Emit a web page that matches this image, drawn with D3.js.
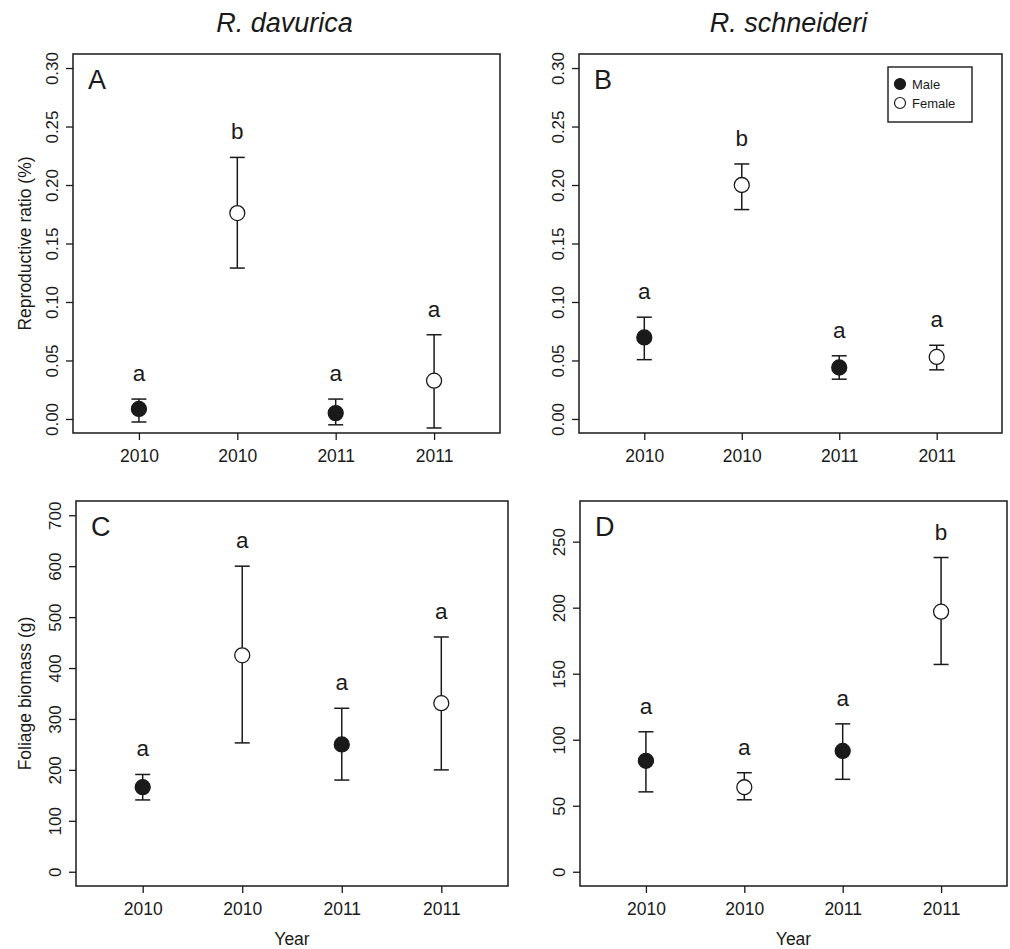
<!DOCTYPE html>
<html>
<head>
<meta charset="utf-8">
<script src="https://cdn.jsdelivr.net/npm/d3@7"></script>
<style>
  html, body { margin: 0; padding: 0; background: #fff; }
  svg { display: block; }
  text { font-family: "Liberation Sans", Arial, sans-serif; fill: #1a1a1a; }
</style>
</head>
<body>
<svg id="chart" width="1010" height="949"></svg>
<script>
// ---------- data ----------
const categories = ["2010", "2010", "2011", "2011"];
const sexes = ["Male", "Female", "Male", "Female"];
const speciesTitles = ["R. davurica", "R. schneideri"];

const ratioTicks = [0, 0.05, 0.10, 0.15, 0.20, 0.25, 0.30];
const biomassTicksC = [0, 100, 200, 300, 400, 500, 600, 700];
const biomassTicksD = [0, 50, 100, 150, 200, 250];

// Panel A: R. davurica reproductive ratio
const aMean = [0.0086, 0.176, 0.005, 0.0327];
const aLow = [-0.0026, 0.129, -0.005, -0.0077];
const aHigh = [0.017, 0.2236, 0.017, 0.072];
const aLetters = ["a", "b", "a", "a"];

// Panel B: R. schneideri reproductive ratio
const bMean = [0.0697, 0.200, 0.044, 0.053];
const bLow = [0.0507, 0.179, 0.034, 0.042];
const bHigh = [0.087, 0.218, 0.054, 0.063];
const bLetters = ["a", "b", "a", "a"];

// Panel C: R. davurica foliage biomass
const cMean = [166, 425, 250, 331];
const cLow = [141, 253, 180, 200];
const cHigh = [191, 600, 321, 461];
const cLetters = ["a", "a", "a", "a"];

// Panel D: R. schneideri foliage biomass
const dMean = [84, 64, 91.5, 197];
const dLow = [60.5, 54.5, 70, 157];
const dHigh = [106, 75, 112, 238];
const dLetters = ["a", "a", "a", "b"];

// ---------- layout ----------
const panels = [
  { label: "A", mean: aMean, low: aLow, high: aHigh, letters: aLetters,
    yDomain: [-0.012, 0.312], ticks: ratioTicks, fmt: d3.format(".2f"),
    box: { x0: 73, x1: 500, y0: 54, y1: 433 }, yTitle: "Reproductive ratio (%)", xTitle: null, legend: false },
  { label: "B", mean: bMean, low: bLow, high: bHigh, letters: bLetters,
    yDomain: [-0.012, 0.312], ticks: ratioTicks, fmt: d3.format(".2f"),
    box: { x0: 579, x1: 1002, y0: 54, y1: 433 }, yTitle: null, xTitle: null, legend: true },
  { label: "C", mean: cMean, low: cLow, high: cHigh, letters: cLetters,
    yDomain: [-28, 728], ticks: biomassTicksC, fmt: d3.format("d"),
    box: { x0: 76, x1: 508, y0: 501, y1: 886 }, yTitle: "Foliage biomass (g)", xTitle: "Year", legend: false },
  { label: "D", mean: dMean, low: dLow, high: dHigh, letters: dLetters,
    yDomain: [-10.8, 280.8], ticks: biomassTicksD, fmt: d3.format("d"),
    box: { x0: 580, x1: 1007, y0: 501, y1: 886 }, yTitle: null, xTitle: "Year", legend: false }
];

const svg = d3.select("#chart");
const ink = "#1a1a1a";
const R = 7.5;
const capW = 7.5;

// Species titles over columns
[panels[0], panels[1]].forEach((p, i) => {
  svg.append("text")
    .attr("x", (p.box.x0 + p.box.x1) / 2 - 2)
    .attr("y", 32)
    .attr("text-anchor", "middle")
    .attr("font-size", 27)
    .attr("font-style", "italic")
    .text(speciesTitles[i]);
});

panels.forEach(p => {
  const b = p.box;
  const x = d3.scaleLinear().domain([0.33, 4.67]).range([b.x0, b.x1]);
  const y = d3.scaleLinear().domain(p.yDomain).range([b.y1, b.y0]);
  const g = svg.append("g");

  // Y axis
  const yAxis = d3.axisLeft(y).tickValues(p.ticks).tickFormat(p.fmt).tickSize(7);
  const ya = g.append("g").attr("transform", `translate(${b.x0},0)`).call(yAxis);
  ya.select(".domain").remove();
  ya.selectAll(".tick line").attr("stroke", ink).attr("stroke-width", 1.3);
  ya.selectAll(".tick text")
    .attr("transform", "rotate(-90)")
    .attr("x", 0).attr("y", -15).attr("dy", null)
    .attr("text-anchor", "middle")
    .attr("font-size", 17)
    .attr("font-family", "Liberation Sans, Arial, sans-serif")
    .attr("fill", ink);

  // X axis
  const xAxis = d3.axisBottom(x).tickValues([1, 2, 3, 4])
    .tickFormat(d => categories[d - 1]).tickSize(7);
  const xa = g.append("g").attr("transform", `translate(0,${b.y1})`).call(xAxis);
  xa.select(".domain").remove();
  xa.selectAll(".tick line").attr("stroke", ink).attr("stroke-width", 1.3);
  xa.selectAll(".tick text")
    .attr("y", 28.5).attr("dy", null)
    .attr("font-size", 17.5)
    .attr("font-family", "Liberation Sans, Arial, sans-serif")
    .attr("fill", ink);

  // Box
  g.append("rect")
    .attr("x", b.x0).attr("y", b.y0)
    .attr("width", b.x1 - b.x0).attr("height", b.y1 - b.y0)
    .attr("fill", "none").attr("stroke", ink).attr("stroke-width", 1.5);

  // Panel letter
  g.append("text")
    .attr("x", b.x0 + 15).attr("y", b.y0 + 35)
    .attr("font-size", 27)
    .text(p.label);

  // Y title
  if (p.yTitle) {
    g.append("text")
      .attr("transform", `translate(31,${(b.y0 + b.y1) / 2}) rotate(-90)`)
      .attr("text-anchor", "middle")
      .attr("font-size", 17.5)
      .text(p.yTitle);
  }
  // X title
  if (p.xTitle) {
    g.append("text")
      .attr("x", (b.x0 + b.x1) / 2)
      .attr("y", 945)
      .attr("text-anchor", "middle")
      .attr("font-size", 17.5)
      .text(p.xTitle);
  }

  const idx = d3.range(categories.length);

  // Error bars
  const eb = g.append("g").attr("stroke", ink).attr("stroke-width", 1.5);
  eb.selectAll("line.v").data(idx).join("line")
    .attr("x1", i => x(i + 1)).attr("x2", i => x(i + 1))
    .attr("y1", i => y(p.low[i])).attr("y2", i => y(p.high[i]));
  eb.selectAll("line.top").data(idx).join("line").attr("class", "top")
    .attr("x1", i => x(i + 1) - capW).attr("x2", i => x(i + 1) + capW)
    .attr("y1", i => y(p.high[i])).attr("y2", i => y(p.high[i]));
  eb.selectAll("line.bot").data(idx).join("line").attr("class", "bot")
    .attr("x1", i => x(i + 1) - capW).attr("x2", i => x(i + 1) + capW)
    .attr("y1", i => y(p.low[i])).attr("y2", i => y(p.low[i]));

  // Points
  g.selectAll("circle.pt").data(idx).join("circle").attr("class", "pt")
    .attr("cx", i => x(i + 1)).attr("cy", i => y(p.mean[i]))
    .attr("r", R)
    .attr("fill", i => sexes[i] === "Male" ? ink : "#fff")
    .attr("stroke", ink).attr("stroke-width", 1.3);

  // Significance letters
  g.selectAll("text.sig").data(idx).join("text").attr("class", "sig")
    .attr("x", i => x(i + 1)).attr("y", i => y(p.high[i]) - 18)
    .attr("text-anchor", "middle")
    .attr("font-size", 22.5)
    .text(i => p.letters[i]);

  // Legend
  if (p.legend) {
    const lg = g.append("g");
    lg.append("rect").attr("x", 888).attr("y", 67).attr("width", 84).attr("height", 55)
      .attr("fill", "#fff").attr("stroke", ink).attr("stroke-width", 1.4);
    ["Male", "Female"].forEach((s, k) => {
      lg.append("circle").attr("cx", 900).attr("cy", 84 + k * 19).attr("r", 5.5)
        .attr("fill", s === "Male" ? ink : "#fff").attr("stroke", ink).attr("stroke-width", 1.2);
      lg.append("text").attr("x", 912).attr("y", 88.5 + k * 19)
        .attr("font-size", 13).text(s);
    });
  }
});
</script>
</body>
</html>
